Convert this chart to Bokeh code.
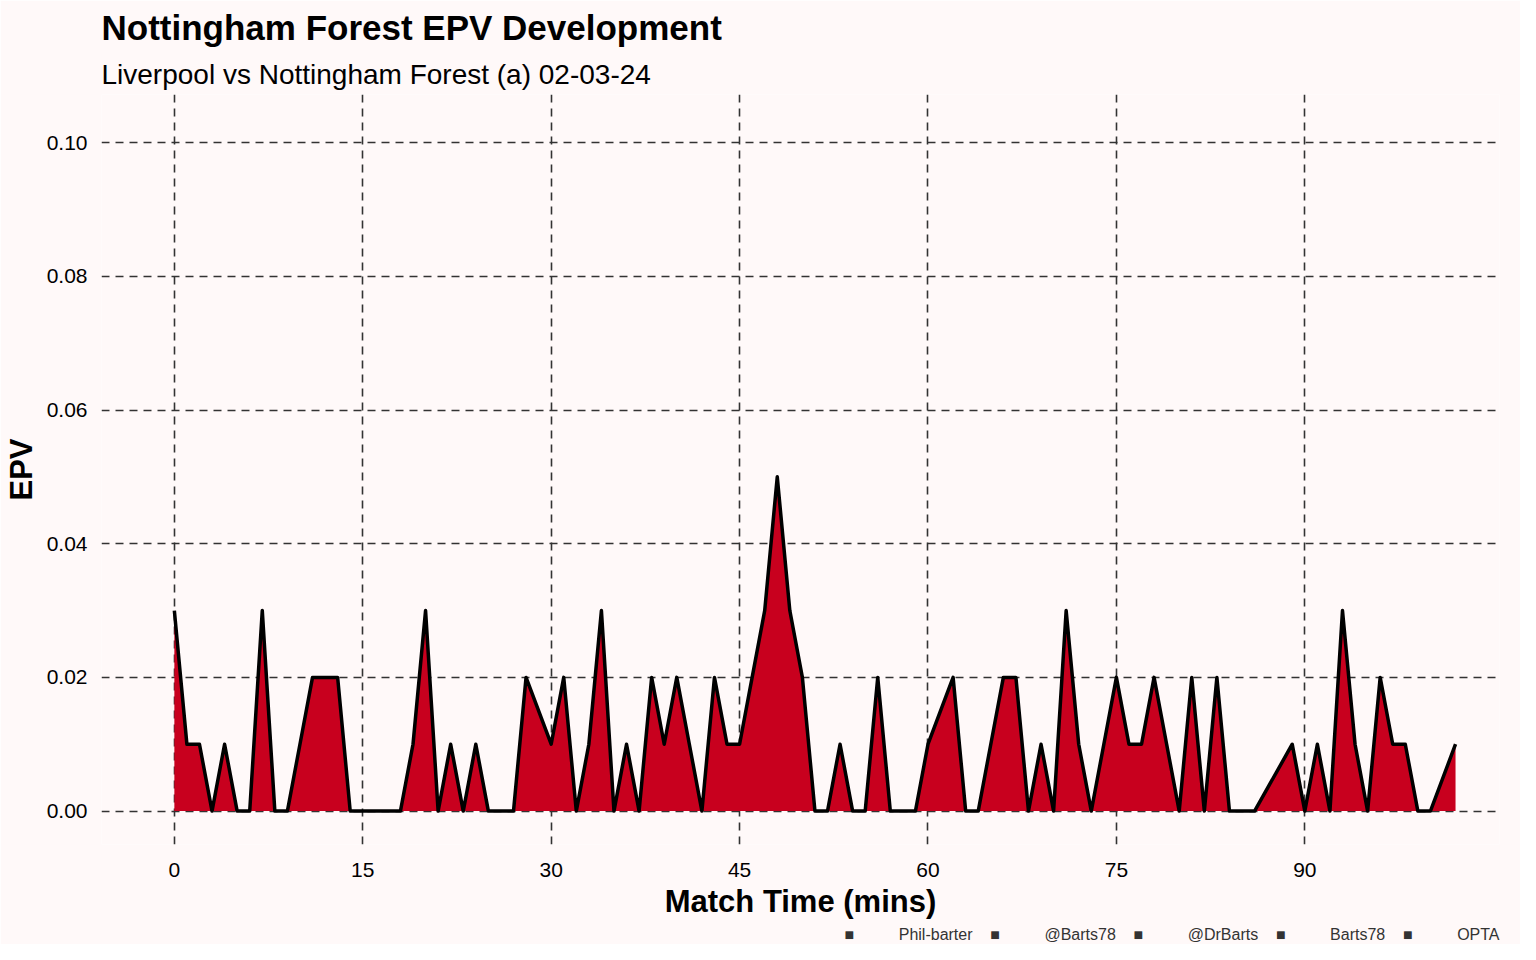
from bokeh.plotting import figure
from bokeh.models import Title, FixedTicker, Range1d
from bokeh.embed import file_html
from bokeh.resources import INLINE

# minute-by-minute EPV for Nottingham Forest
minutes = [0, 1, 2, 3, 4, 5, 6, 7, 8, 9, 10, 11, 12, 13, 14, 15, 16, 17, 18, 19,
           20, 21, 22, 23, 24, 25, 26, 27, 28, 30, 31, 32, 33, 34, 35, 36, 37, 38, 39,
           40, 41, 42, 43, 44, 45, 46, 47, 48, 49, 50, 51, 52, 53, 54, 55, 56, 57, 58,
           59, 60, 62, 63, 64, 65, 66, 67, 68, 69, 70, 71, 72, 73, 74, 75, 76, 77, 78,
           79, 80, 81, 82, 83, 84, 85, 86, 89, 90, 91, 92, 93, 94, 95, 96, 97, 98, 99,
           100, 102]
epv = [0.03, 0.01, 0.01, 0, 0.01, 0, 0, 0.03, 0, 0, 0.01, 0.02, 0.02, 0.02, 0, 0, 0, 0, 0, 0.01,
       0.03, 0, 0.01, 0, 0.01, 0, 0, 0, 0.02, 0.01, 0.02, 0, 0.01, 0.03, 0, 0.01, 0, 0.02, 0.01,
       0.02, 0.01, 0, 0.02, 0.01, 0.01, 0.02, 0.03, 0.05, 0.03, 0.02, 0, 0, 0.01, 0, 0, 0.02, 0, 0,
       0, 0.01, 0.02, 0, 0, 0.01, 0.02, 0.02, 0, 0.01, 0, 0.03, 0.01, 0, 0.01, 0.02, 0.01, 0.01, 0.02,
       0.01, 0, 0.02, 0, 0.02, 0, 0, 0, 0.01, 0, 0.01, 0, 0.03, 0.01, 0, 0.02, 0.01, 0.01, 0,
       0, 0.01]
x_ticks = [0, 15, 30, 45, 60, 75, 90]
y_ticks = [0.0, 0.02, 0.04, 0.06, 0.08, 0.10]
caption = ["Phil-barter", "@Barts78", "@DrBarts", "Barts78", "OPTA"]

bg = "#FFF9F9"
font = "Liberation Sans"
nb = "\u00A0"

p = figure(width=1520, height=944, output_backend="svg", toolbar_location=None,
           x_range=Range1d(-5.8, 105.5), y_range=Range1d(-0.005, 0.1072),
           min_border_left=99, min_border_right=21, min_border_top=30, min_border_bottom=90,
           background_fill_color=bg, border_fill_color=bg, outline_line_color=None)

p.add_layout(Title(text="Liverpool vs Nottingham Forest (a) 02-03-24", text_font=font,
                   text_font_size="28px", text_font_style="normal", text_color="black",
                   offset=0), "above")
p.add_layout(Title(text="Nottingham Forest EPV Development", text_font=font,
                   text_font_size="35px", text_font_style="bold", text_color="black",
                   offset=0), "above")

cap_text = (nb * 4).join("\u25A0" + nb * 10 + c for c in caption)
p.add_layout(Title(text=cap_text, text_font=font, text_font_size="16px",
                   text_font_style="normal", text_color="#333333", align="right",
                   offset=0, standoff=4), "below")

p.varea(x=minutes, y1=0, y2=epv, fill_color="#C8001E")
p.line(minutes, epv, line_color="black", line_width=3.5, line_join="round")

for ax in (p.xaxis, p.yaxis):
    ax.axis_line_color = None
    ax.major_tick_line_color = None
    ax.minor_tick_line_color = None
    ax.major_label_text_font = font
    ax.major_label_text_font_size = "21px"
    ax.major_label_text_color = "black"
    ax.axis_label_text_font = font
    ax.axis_label_text_font_size = "31px"
    ax.axis_label_text_font_style = "bold"
    ax.axis_label_text_color = "black"

p.xaxis.ticker = FixedTicker(ticks=x_ticks)
p.yaxis.ticker = FixedTicker(ticks=y_ticks)
p.yaxis.major_label_overrides = {t: f"{t:.2f}" for t in y_ticks}
p.xaxis.axis_label = "Match Time (mins)"
p.yaxis.axis_label = "EPV"
p.xaxis.major_label_standoff = 12
p.xaxis.axis_label_standoff = 4
p.yaxis.major_label_standoff = 8

p.grid.grid_line_color = "#333333"
p.grid.grid_line_dash = "8 6"
p.grid.grid_line_width = 1.6

open("out.html", "w").write(file_html(p, INLINE))
